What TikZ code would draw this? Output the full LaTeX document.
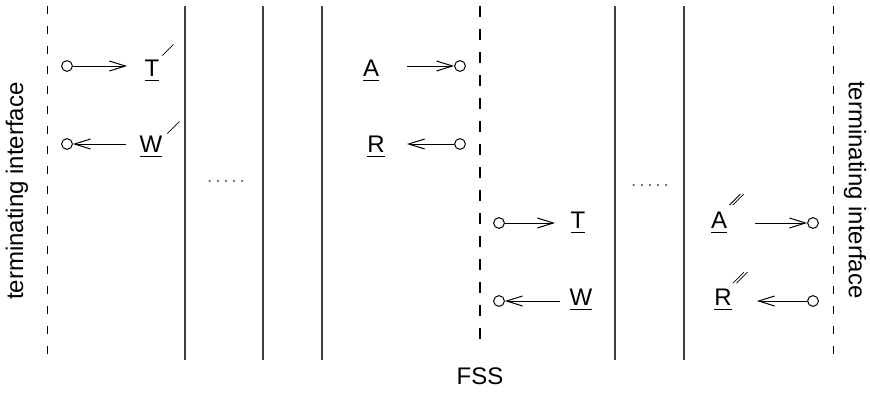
\documentclass[tikz,border=0pt]{standalone}
\usepackage{fontspec}
\setmainfont{Liberation Sans}
\usetikzlibrary{arrows.meta}

% letter with a detached underline
\newcommand\signame[1]{\setbox0\hbox{#1}\rlap{\rule[-2.6pt]{\wd0}{0.55pt}}\box0}
% widely spaced dots
\newcommand\gapdots{.\kern1.4pt.\kern1.4pt.\kern1.4pt.\kern1.4pt.}

\begin{document}
\begin{tikzpicture}[x=0.5pt, y=-0.5pt,
  port/.style={circle, draw, line width=0.5pt, minimum size=5.4pt, inner sep=0pt},
  sig/.style={inner sep=0pt, anchor=base, font=\fontsize{12}{14}\selectfont},
  flow/.style={-{Straight Barb[length=8pt, width=5pt]}, line width=0.5pt},
  wall/.style={line width=0.7pt, black!75},
  iface/.style={line width=0.5pt, dash pattern=on 4pt off 6pt},
  fss/.style={line width=1pt, dash pattern=on 5.5pt off 6pt},
  tick/.style={line width=0.4pt},
  dots/.style={font=\fontsize{9.5}{11}\selectfont, text=black!60},
  txt/.style={font=\fontsize{12}{14}\selectfont}]
  \useasboundingbox (0,0) rectangle (870,396);
  % interfaces and layer walls
  \draw[iface] (47,6) -- (47,360);
  \draw[iface] (833,6) -- (833,360);
  \draw[fss] (480,6) -- (480,350);
  \foreach \x in {185,263,322,615,684}
    \draw[wall] (\x,6) -- (\x,360);
  % ports
  \node[port] (p1) at (67,66)  {};
  \node[port] (p2) at (67,144) {};
  \node[port] (p3) at (460,66) {};
  \node[port] (p4) at (460,144) {};
  \node[port] (p5) at (499,223) {};
  \node[port] (p6) at (499,301) {};
  \node[port] (p7) at (813,223) {};
  \node[port] (p8) at (813,301) {};
  % free arrow ends
  \coordinate (e1) at (127,66);
  \coordinate (e2) at (126,144);
  \coordinate (e3) at (407,66);
  \coordinate (e4) at (407,144);
  \coordinate (e5) at (555,223);
  \coordinate (e6) at (560,301);
  \coordinate (e7) at (755,223);
  \coordinate (e8) at (757,301);
  % signal flows
  \draw[flow] (p1) -- (e1);
  \draw[flow] (e2) -- (p2);
  \draw[flow] (e3) -- (p3);
  \draw[flow] (p4) -- (e4);
  \draw[flow] (p5) -- (e5);
  \draw[flow] (e6) -- (p6);
  \draw[flow] (e7) -- (p7);
  \draw[flow] (p8) -- (e8);
  % signal names
  \node[sig] (t1) at (152,76)  {\signame{T}};
  \node[sig] (w1) at (151,152) {\signame{W}};
  \node[sig] (a1) at (371,76)  {\signame{A}};
  \node[sig] (r1) at (376,152) {\signame{R}};
  \node[sig] (t2) at (578,228) {\signame{T}};
  \node[sig] (w2) at (581,305) {\signame{W}};
  \node[sig] (a2) at (719,228) {\signame{A}};
  \node[sig] (r2) at (723,305) {\signame{R}};
  % primes
  \draw[tick] ([shift={(1.3pt,1.8pt)}]t1.north east) -- ++(5.5pt,5.5pt);
  \draw[tick] ([shift={(2.3pt,0.8pt)}]w1.north east) -- ++(6pt,6pt);
  \foreach \d in {0pt,1.7pt} {
    \draw[tick] ([shift={(1pt+\d,3pt)}]a2.north east) -- ++(5.5pt,5.5pt);
    \draw[tick] ([shift={(0.5pt+\d,2.5pt)}]r2.north east) -- ++(5.5pt,5.5pt);
  }
  % gaps between layers
  \node[dots] (g1) at (226,181) {\gapdots};
  \node[dots] (g2) at (650,185) {\gapdots};
  % interface names
  \node[txt, rotate=90]  (ti1) at (17,191)  {terminating interface};
  \node[txt, rotate=-90] (ti2) at (855,190) {terminating interface};
  \node[txt] (fss) at (480,376) {FSS};
\end{tikzpicture}
\end{document}
